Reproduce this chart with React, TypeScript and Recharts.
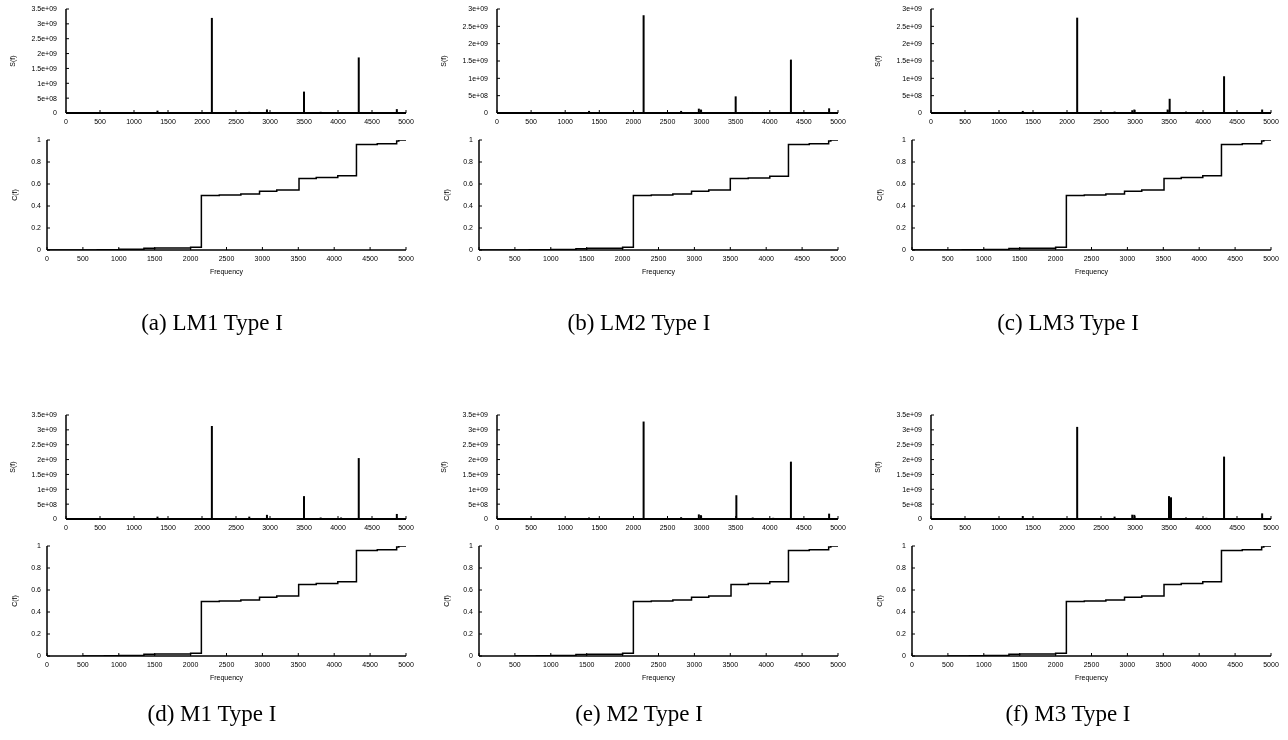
import React from 'react';
import { BarChart, Bar, LineChart, Line, XAxis, YAxis } from 'recharts';

// ---------- tick labels ----------
const FREQ_TICKS = [0, 500, 1000, 1500, 2000, 2500, 3000, 3500, 4000, 4500, 5000];
const S_TICKS_35 = [0, 5e8, 1e9, 1.5e9, 2e9, 2.5e9, 3e9, 3.5e9];
const S_TICKS_30 = [0, 5e8, 1e9, 1.5e9, 2e9, 2.5e9, 3e9];
const C_TICKS = [0, 0.2, 0.4, 0.6, 0.8, 1];
const CAPTIONS = ['(a) LM1 Type I', '(b) LM2 Type I', '(c) LM3 Type I', '(d) M1 Type I', '(e) M2 Type I', '(f) M3 Type I'];

// ---------- spectrum S(f): peak frequencies and power ----------
const lm1Freq = [1350, 2150, 2700, 2960, 3505, 3750, 4050, 4310, 4870];
const lm1Power = [8e7, 3.2e9, 4e7, 1.2e8, 7.2e8, 4e7, 3e7, 1.87e9, 1.3e8];

const lm2Freq = [1350, 2150, 2700, 2960, 2990, 3500, 3750, 4310, 4870];
const lm2Power = [6e7, 2.82e9, 6e7, 1.25e8, 1.0e8, 4.8e8, 3e7, 1.54e9, 1.35e8];

const lm3Freq = [1350, 2150, 2700, 2960, 2990, 3480, 3510, 3750, 4310, 4870];
const lm3Power = [6e7, 2.75e9, 4e7, 8e7, 1.0e8, 1.0e8, 4.1e8, 4e7, 1.06e9, 1.0e8];

const m1Freq = [1350, 2150, 2700, 2960, 3505, 3750, 4050, 4310, 4870];
const m1Power = [8e7, 3.13e9, 8e7, 1.4e8, 7.7e8, 5e7, 5e7, 2.05e9, 1.7e8];

const m2Freq = [1350, 2150, 2700, 2960, 2990, 3510, 3750, 4050, 4310, 4870];
const m2Power = [5e7, 3.28e9, 6e7, 1.55e8, 1.3e8, 8.0e8, 5e7, 4e7, 1.93e9, 1.8e8];

const m3Freq = [1350, 2150, 2700, 2960, 2990, 3500, 3530, 3750, 4050, 4310, 4870];
const m3Power = [1e8, 3.1e9, 8e7, 1.45e8, 1.4e8, 7.7e8, 7.3e8, 5e7, 4e7, 2.1e9, 1.9e8];

// ---------- cumulative C(f): step points ----------
const lm1CumFreq = [0, 700, 1000, 1350, 1500, 2000, 2150, 2400, 2700, 2960, 3200, 3510, 3750, 4050, 4310, 4600, 4870, 4900, 5000];
const lm1Cum = [0, 0.003, 0.006, 0.015, 0.018, 0.025, 0.495, 0.5, 0.51, 0.535, 0.545, 0.65, 0.66, 0.675, 0.96, 0.965, 0.99, 1.0, 1.0];

const lm2CumFreq = [0, 700, 1000, 1350, 1500, 2000, 2150, 2400, 2700, 2960, 3200, 3500, 3750, 4050, 4310, 4600, 4870, 4900, 5000];
const lm2Cum = [0, 0.002, 0.005, 0.012, 0.016, 0.024, 0.495, 0.5, 0.51, 0.535, 0.545, 0.65, 0.655, 0.67, 0.96, 0.965, 0.99, 1.0, 1.0];

const lm3CumFreq = [0, 700, 1000, 1350, 1500, 2000, 2150, 2400, 2700, 2960, 3200, 3510, 3750, 4050, 4310, 4600, 4870, 4900, 5000];
const lm3Cum = [0, 0.002, 0.005, 0.014, 0.017, 0.025, 0.495, 0.5, 0.51, 0.535, 0.545, 0.65, 0.66, 0.675, 0.96, 0.965, 0.99, 1.0, 1.0];

const m1CumFreq = [500, 800, 1000, 1350, 1500, 2000, 2150, 2400, 2700, 2960, 3200, 3505, 3750, 4050, 4310, 4600, 4870, 4900, 5000];
const m1Cum = [0, 0.003, 0.005, 0.015, 0.018, 0.025, 0.495, 0.5, 0.51, 0.535, 0.545, 0.65, 0.66, 0.675, 0.96, 0.965, 0.99, 1.0, 1.0];

const m2CumFreq = [500, 800, 1000, 1350, 1500, 2000, 2150, 2400, 2700, 2960, 3200, 3510, 3750, 4050, 4310, 4600, 4870, 4900, 5000];
const m2Cum = [0, 0.003, 0.005, 0.014, 0.017, 0.025, 0.495, 0.5, 0.51, 0.535, 0.545, 0.65, 0.66, 0.675, 0.96, 0.965, 0.99, 1.0, 1.0];

const m3CumFreq = [500, 800, 1000, 1350, 1500, 2000, 2150, 2400, 2700, 2960, 3200, 3510, 3750, 4050, 4310, 4600, 4870, 4900, 5000];
const m3Cum = [0, 0.003, 0.005, 0.016, 0.019, 0.026, 0.495, 0.5, 0.51, 0.535, 0.545, 0.65, 0.66, 0.675, 0.96, 0.965, 0.99, 1.0, 1.0];

// ---------- layout ----------
const COLS = [
  { s: 66, c: 47, r: 406, cap: 212 },
  { s: 497, c: 479, r: 838, cap: 639 },
  { s: 931, c: 912, r: 1271, cap: 1068 },
];
const ROWS = [
  { sTop: 9, sZero: 113, cTop: 140, cZero: 250, cap: 323 },
  { sTop: 415, sZero: 519, cTop: 546, cZero: 656, cap: 714 },
];

const SANS = '"Liberation Sans", Arial, Helvetica, sans-serif';
const SERIF = '"Liberation Serif", "Times New Roman", Times, serif';
const tickStyle = { fontSize: 7, fill: '#000', fontFamily: SANS };

const fmtSci = (v: number) => {
  if (v === 0) return '0';
  return v.toExponential().replace(/e\+(\d)$/, 'e+0$1');
};

const SpectrumChart = ({ freq, power, yTicks, x0, x1, y0, y1 }: any) => {
  const data = freq.map((f: number, i: number) => ({ f, s: power[i] }));
  const padL = 110, padR = 12, padT = 6, padB = 18;
  const w = x1 - x0 + padL + padR;
  const h = y1 - y0 + padT + padB;
  return (
    <div style={{ position: 'absolute', left: x0 - padL, top: y0 - padT }}>
      <BarChart width={w} height={h} data={data} margin={{ top: padT, right: padR, bottom: 4, left: 4 }}>
        <XAxis
          type="number"
          dataKey="f"
          domain={[0, 5000]}
          ticks={FREQ_TICKS}
          interval={0}
          height={14}
          tickSize={-3}
          tickMargin={9}
          tick={tickStyle}
          axisLine={{ stroke: '#000', strokeWidth: 2 }}
          tickLine={{ stroke: '#000', strokeWidth: 1 }}
          allowDataOverflow
        />
        <YAxis
          type="number"
          domain={[0, yTicks[yTicks.length - 1]]}
          ticks={yTicks}
          interval={0}
          width={106}
          tickSize={-3}
          tickMargin={12}
          tick={tickStyle}
          tickFormatter={fmtSci}
          axisLine={{ stroke: '#000', strokeWidth: 1.5 }}
          tickLine={{ stroke: '#000', strokeWidth: 1 }}
          label={{ value: 'S(f)', angle: -90, position: 'center', fontSize: 7, fill: '#000', fontFamily: SANS }}
          allowDataOverflow
        />
        <Bar dataKey="s" fill="#000" barSize={2} isAnimationActive={false} />
      </BarChart>
    </div>
  );
};

const CumulativeChart = ({ freq, cum, x0, x1, y0, y1 }: any) => {
  const data = freq.map((f: number, i: number) => ({ f, c: cum[i] }));
  const padL = 68, padR = 12, padT = 6, padB = 28;
  const w = x1 - x0 + padL + padR;
  const h = y1 - y0 + padT + padB;
  return (
    <div style={{ position: 'absolute', left: x0 - padL, top: y0 - padT }}>
      <LineChart width={w} height={h} data={data} margin={{ top: padT, right: padR, bottom: 4, left: 4 }}>
        <XAxis
          type="number"
          dataKey="f"
          domain={[0, 5000]}
          ticks={FREQ_TICKS}
          interval={0}
          height={24}
          tickSize={-3}
          tickMargin={9}
          tick={tickStyle}
          axisLine={{ stroke: '#000', strokeWidth: 1.5 }}
          tickLine={{ stroke: '#000', strokeWidth: 1 }}
          label={{ value: 'Frequency', position: 'insideBottom', offset: 0, fontSize: 7, fill: '#000', fontFamily: SANS }}
          allowDataOverflow
        />
        <YAxis
          type="number"
          domain={[0, 1]}
          ticks={C_TICKS}
          interval={0}
          width={64}
          tickSize={-3}
          tickMargin={9}
          tick={tickStyle}
          axisLine={{ stroke: '#000', strokeWidth: 1.5 }}
          tickLine={{ stroke: '#000', strokeWidth: 1 }}
          label={{ value: 'C(f)', angle: -90, position: 'center', fontSize: 7, fill: '#000', fontFamily: SANS }}
          allowDataOverflow
        />
        <Line
          type="stepAfter"
          dataKey="c"
          stroke="#000"
          strokeWidth={1.5}
          dot={false}
          isAnimationActive={false}
        />
      </LineChart>
    </div>
  );
};

const PANELS = [
  { freq: lm1Freq, power: lm1Power, yTicks: S_TICKS_35, cFreq: lm1CumFreq, cum: lm1Cum },
  { freq: lm2Freq, power: lm2Power, yTicks: S_TICKS_30, cFreq: lm2CumFreq, cum: lm2Cum },
  { freq: lm3Freq, power: lm3Power, yTicks: S_TICKS_30, cFreq: lm3CumFreq, cum: lm3Cum },
  { freq: m1Freq, power: m1Power, yTicks: S_TICKS_35, cFreq: m1CumFreq, cum: m1Cum },
  { freq: m2Freq, power: m2Power, yTicks: S_TICKS_35, cFreq: m2CumFreq, cum: m2Cum },
  { freq: m3Freq, power: m3Power, yTicks: S_TICKS_35, cFreq: m3CumFreq, cum: m3Cum },
];

export default function App() {
  return (
    <div
      style={{
        position: 'absolute',
        left: 0,
        top: 0,
        width: 1288,
        height: 740,
        background: '#fff',
        overflow: 'hidden',
        willChange: 'transform',
      }}
    >
      {PANELS.map((p, i) => {
        const col = COLS[i % 3];
        const row = ROWS[Math.floor(i / 3)];
        return (
          <React.Fragment key={i}>
            <SpectrumChart freq={p.freq} power={p.power} yTicks={p.yTicks} x0={col.s} x1={col.r} y0={row.sTop} y1={row.sZero} />
            <CumulativeChart freq={p.cFreq} cum={p.cum} x0={col.c} x1={col.r} y0={row.cTop} y1={row.cZero} />
            <div
              style={{
                position: 'absolute',
                left: col.cap - 150,
                width: 300,
                top: row.cap - 14,
                height: 28,
                lineHeight: '28px',
                textAlign: 'center',
                fontFamily: SERIF,
                fontSize: 23,
                color: '#000',
              }}
            >
              {CAPTIONS[i]}
            </div>
          </React.Fragment>
        );
      })}
    </div>
  );
}
